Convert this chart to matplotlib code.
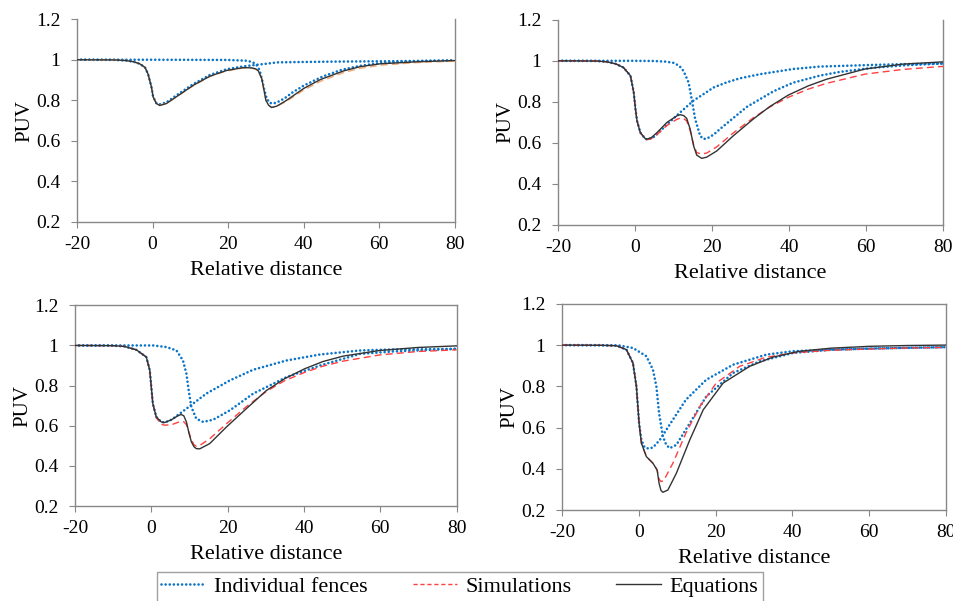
import matplotlib.pyplot as plt

plt.rcParams['font.family'] = ['Liberation Serif', 'DejaVu Serif']
plt.rcParams['axes.unicode_minus'] = False

# ---- panel 1 (fences at 0 and 30)
eq1_x = [-20, -10, -7, -5, -3.4, -2, -1.2, -0.3, 0.15, 1.0, 1.9, 3.7, 6.3, 10.8, 15.2, 19.6, 24, 26.2,
         27.3, 28, 28.9, 29.5, 30, 30.7, 31.5, 32.9, 35.5, 40, 44.4, 50.6, 55, 60.3, 70, 80]
eq1_y = [1.0, 0.999, 0.996, 0.99, 0.98, 0.962, 0.93, 0.866, 0.817, 0.784, 0.774, 0.784, 0.817, 0.874,
         0.919, 0.947, 0.961, 0.960, 0.955, 0.945, 0.907, 0.85, 0.80, 0.776, 0.764, 0.771, 0.80, 0.858,
         0.902, 0.945, 0.966, 0.98, 0.99, 0.996]
sim1_x = eq1_x
sim1_y = [1.0, 0.999, 0.996, 0.99, 0.98, 0.962, 0.93, 0.866, 0.817, 0.784, 0.775, 0.785, 0.816, 0.872,
          0.917, 0.945, 0.959, 0.958, 0.953, 0.943, 0.905, 0.85, 0.80, 0.776, 0.765, 0.770, 0.795, 0.85,
          0.893, 0.937, 0.958, 0.973, 0.986, 0.993]
fa1_x = [-20, -10, -7, -5, -3.4, -2, -1.2, -0.3, 0.15, 1.0, 2.0, 3.7, 6.3, 10.8, 15.2, 19.6, 24, 27.5,
         30, 33, 40, 50, 64, 80]
fa1_y = [1.0, 0.999, 0.996, 0.99, 0.98, 0.962, 0.93, 0.866, 0.817, 0.786, 0.78, 0.79, 0.824, 0.88, 0.925,
         0.953, 0.967, 0.975, 0.98, 0.987, 0.989, 0.991, 0.993, 0.996]
fb1_x = [-20, 0, 20, 25, 26.5, 27.5, 28.3, 29, 29.6, 30.2, 31, 32, 33, 35, 37, 40, 45, 50, 55, 60, 70, 80]
fb1_y = [1.0, 1.0, 0.999, 0.995, 0.988, 0.975, 0.95, 0.9, 0.85, 0.81, 0.787, 0.784, 0.79, 0.81, 0.838,
         0.872, 0.917, 0.95, 0.97, 0.983, 0.993, 0.997]

# ---- panel 2 (fences at 0 and 15)
eq2_x = [-20, -10, -7.3, -5, -3, -1.2, -0.35, 0.1, 0.5, 1.35, 2.6, 3.1, 4.2, 5.7, 8.3, 10.9, 11.7, 12.6,
         13.4, 14.3, 15.2, 16, 17.3, 18.6, 21.2, 25.5, 30.7, 35, 39.8, 45, 49.7, 59.7, 69.6, 80]
eq2_y = [1.0, 0.999, 0.995, 0.985, 0.967, 0.927, 0.845, 0.764, 0.707, 0.65, 0.621, 0.618, 0.625, 0.65,
         0.70, 0.732, 0.737, 0.733, 0.719, 0.667, 0.585, 0.54, 0.524, 0.53, 0.56, 0.634, 0.716, 0.777,
         0.833, 0.878, 0.91, 0.96, 0.984, 0.995]
sim2_x = eq2_x
sim2_y = [1.0, 0.999, 0.995, 0.985, 0.967, 0.927, 0.845, 0.764, 0.707, 0.65, 0.619, 0.615, 0.62, 0.64,
          0.685, 0.715, 0.72, 0.718, 0.707, 0.66, 0.59, 0.552, 0.545, 0.55, 0.58, 0.648, 0.722, 0.775,
          0.822, 0.862, 0.89, 0.935, 0.958, 0.973]
fa2_x = [-20, -10, -7.3, -5, -3, -1.2, -0.35, 0.1, 0.5, 1.35, 2.6, 3.3, 5, 7.5, 10.8, 15.1, 20.4, 23.8,
         27.3, 32.5, 41, 48, 61.8, 70, 80]
fa2_y = [1.0, 0.999, 0.995, 0.985, 0.967, 0.927, 0.845, 0.764, 0.707, 0.65, 0.62, 0.615, 0.63, 0.675,
         0.733, 0.805, 0.87, 0.895, 0.915, 0.935, 0.96, 0.972, 0.98, 0.984, 0.987]
fb2_x = [-20, 0, 5, 8, 10, 11.5, 12.6, 13.9, 14.7, 15.6, 16.9, 17.7, 18.6, 20.4, 22.1, 29, 36, 41, 48,
         53.2, 61.8, 70, 80]
fb2_y = [1.0, 1.0, 0.999, 0.996, 0.99, 0.975, 0.95, 0.894, 0.813, 0.716, 0.634, 0.619, 0.62, 0.64, 0.668,
         0.775, 0.852, 0.893, 0.928, 0.946, 0.966, 0.978, 0.987]

# ---- panel 3 (fences at 0 and 10)
eq3_x = [-20, -10, -7, -3.9, -1.3, -0.4, 0, 0.4, 1.3, 2.6, 3.5, 5.3, 7.0, 7.8, 8.5, 9.2, 9.9, 10.5,
         11.2, 11.8, 12.7, 15.3, 19.7, 24.9, 30.2, 35, 40.2, 45, 50.3, 59.9, 69.9, 80]
eq3_y = [1.0, 0.999, 0.995, 0.978, 0.942, 0.876, 0.793, 0.71, 0.644, 0.619, 0.616, 0.63, 0.65, 0.656,
         0.65, 0.619, 0.561, 0.52, 0.495, 0.486, 0.485, 0.511, 0.594, 0.685, 0.776, 0.835, 0.884, 0.92,
         0.947, 0.975, 0.99, 0.998]
sim3_x = eq3_x
sim3_y = [1.0, 0.999, 0.995, 0.978, 0.942, 0.876, 0.793, 0.71, 0.64, 0.607, 0.603, 0.605, 0.617, 0.622,
          0.62, 0.605, 0.565, 0.53, 0.505, 0.498, 0.502, 0.535, 0.61, 0.695, 0.772, 0.825, 0.866, 0.897,
          0.922, 0.953, 0.97, 0.978]
fa3_x = [-20, -10, -7, -3.9, -1.3, -0.4, 0, 0.4, 1.3, 2.6, 3.5, 5.3, 9.2, 14.4, 20.6, 26.7, 35.4, 44.2,
         54.7, 63.4, 80]
fa3_y = [1.0, 0.999, 0.995, 0.978, 0.942, 0.876, 0.793, 0.71, 0.644, 0.619, 0.616, 0.63, 0.685, 0.76,
         0.826, 0.879, 0.925, 0.955, 0.975, 0.98, 0.983]
fb3_x = [-20, 0.5, 4, 6.6, 8.3, 9.2, 9.8, 10.5, 11.8, 13.6, 16.2, 20.6, 26.7, 35.4, 44.2, 54.7, 63.4, 80]
fb3_y = [1.0, 1.0, 0.992, 0.975, 0.925, 0.859, 0.776, 0.693, 0.635, 0.619, 0.63, 0.677, 0.76, 0.842,
         0.9, 0.958, 0.97, 0.983]

# ---- panel 4 (fences at 0 and 5)
eq4_x = [-20, -10, -5.8, -3.2, -1.5, -0.6, 0.1, 0.7, 2, 3.7, 4.8, 5.3, 5.8, 6.3, 7.6, 9.8, 13.3, 16.8,
         22, 28.9, 35, 41.9, 50, 60, 70, 80]
eq4_y = [1.0, 0.999, 0.997, 0.978, 0.913, 0.8, 0.621, 0.524, 0.459, 0.427, 0.394, 0.33, 0.295, 0.286,
         0.297, 0.378, 0.54, 0.686, 0.816, 0.897, 0.942, 0.97, 0.985, 0.994, 0.998, 1.0]
sim4_x = [-20, -10, -5.8, -3.2, -1.5, -0.6, 0.1, 0.7, 2, 3.7, 4.8, 5.3, 5.8, 6.5, 8.9, 12.3, 15.9, 20.2,
          26.3, 33, 40, 50, 60, 70, 80]
sim4_y = [1.0, 0.999, 0.997, 0.978, 0.913, 0.8, 0.621, 0.524, 0.459, 0.427, 0.394, 0.35, 0.338, 0.342,
          0.427, 0.573, 0.702, 0.816, 0.897, 0.94, 0.962, 0.975, 0.981, 0.986, 0.989]
fa4_x = [-20, -10, -5.8, -3.2, -1.5, -0.6, 0.1, 0.7, 1.5, 2.5, 3.7, 5.5, 8.9, 12.3, 17.6, 24.6, 33.3, 40,
         50, 60, 80]
fa4_y = [1.0, 0.999, 0.997, 0.978, 0.913, 0.8, 0.621, 0.54, 0.505, 0.498, 0.503, 0.54, 0.638, 0.735,
         0.832, 0.905, 0.954, 0.97, 0.978, 0.983, 0.99]
fb4_x = [-20, -10, -5, -1.5, 2, 3.7, 4.6, 5.3, 6.3, 7.2, 8.1, 9.8, 13.3, 17.6, 24.6, 31.5, 40.2, 50, 60,
         70, 80]
fb4_y = [1.0, 1.0, 0.998, 0.986, 0.946, 0.881, 0.8, 0.67, 0.557, 0.515, 0.5, 0.516, 0.621, 0.751, 0.865,
         0.921, 0.962, 0.977, 0.983, 0.987, 0.99]

xticks = [-20, 0, 20, 40, 60, 80]
yticks = [0.2, 0.4, 0.6, 0.8, 1.0, 1.2]
ytick_labels = ['0.2', '0.4', '0.6', '0.8', '1', '1.2']

panels = [
    ([0.0807, 0.631, 0.396, 0.337], (eq1_x, eq1_y), (sim1_x, sim1_y), [(fa1_x, fa1_y), (fb1_x, fb1_y)], '#f4a870', False),
    ([0.585, 0.626, 0.4036, 0.341], (eq2_x, eq2_y), (sim2_x, sim2_y), [(fa2_x, fa2_y), (fb2_x, fb2_y)], '#ff4040', False),
    ([0.0786, 0.158, 0.400, 0.334], (eq3_x, eq3_y), (sim3_x, sim3_y), [(fa3_x, fa3_y), (fb3_x, fb3_y)], '#ff4040', True),
    ([0.589, 0.1514, 0.4025, 0.343], (eq4_x, eq4_y), (sim4_x, sim4_y), [(fa4_x, fa4_y), (fb4_x, fb4_y)], '#ff4040', True),
]

fig = plt.figure(figsize=(9.54, 6.01), dpi=100)
blue = '#0a74c8'
dots = (0, (0.01, 1.55))
for rect, eq, sim, fences, simcol, topspine in panels:
    ax = fig.add_axes(rect)
    for fx, fy in fences:
        ax.plot(fx, fy, color=blue, lw=1.9, linestyle=dots, dash_capstyle='round', zorder=2)
    ax.plot(sim[0], sim[1], color=simcol, lw=1.0, linestyle=(0, (5, 3)), zorder=3)
    ax.plot(eq[0], eq[1], color='#333333', lw=1.0, zorder=4)
    ax.set_xlim(-20, 80)
    ax.set_ylim(0.2, 1.2)
    ax.set_xticks(xticks)
    ax.set_yticks(yticks)
    ax.set_yticklabels(ytick_labels)
    ax.tick_params(direction='out', length=4, width=0.8, color='#888888', labelsize=14)
    ax.tick_params(axis='x', pad=6)
    ax.tick_params(axis='y', pad=8)
    for side in ['left', 'bottom', 'right', 'top']:
        ax.spines[side].set_color('#888888')
        ax.spines[side].set_linewidth(1.0)
    ax.spines['top'].set_visible(topspine)
    ax.set_xlabel('Relative distance', fontsize=16, labelpad=6)
    ax.set_ylabel('PUV', fontsize=15, labelpad=1)

# legend proxies
hf_leg, = plt.plot([], [], color=blue, lw=1.9, linestyle=dots, dash_capstyle='round')
hs_leg, = plt.plot([], [], color='#ff4040', lw=1.0, linestyle=(0, (3, 2)))
he_leg, = plt.plot([], [], color='#333333', lw=1.0)
leg = fig.legend([hf_leg, hs_leg, he_leg], ['Individual fences', 'Simulations', 'Equations'],
                 loc='upper center', bbox_to_anchor=(0.482, 0.048), ncol=3, fontsize=16,
                 frameon=True, fancybox=False, edgecolor='#888888', handlelength=2.0,
                 handletextpad=0.4, columnspacing=2.0, borderpad=0.2, borderaxespad=0)
leg.get_frame().set_linewidth(1.0)

fig.savefig('out.png', dpi=100)
